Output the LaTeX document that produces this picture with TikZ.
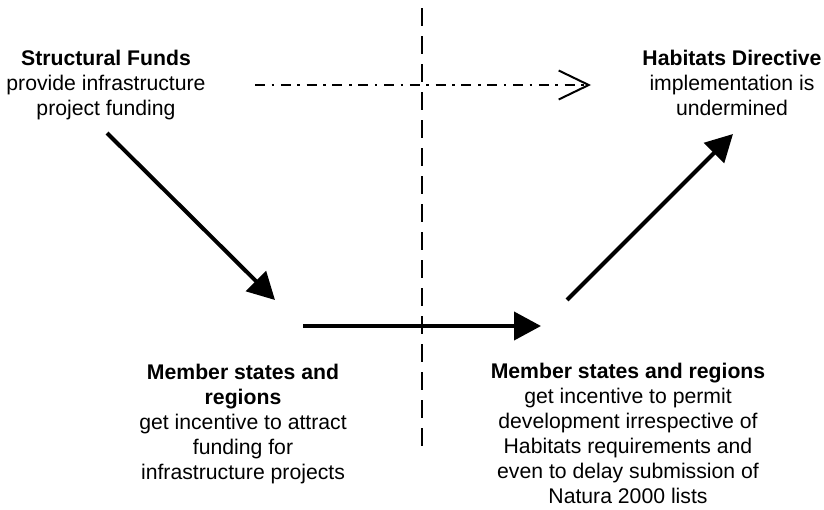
\documentclass[tikz,border=0pt]{standalone}
\usepackage{fontspec}
\setmainfont{Liberation Sans}
\usepackage{tikz}
\usetikzlibrary{arrows.meta,positioning,calc}

\begin{document}
\begin{tikzpicture}[x=0.5pt,y=-0.5pt,
    txt/.style={align=center,inner sep=0pt,anchor=north,
      font=\fontsize{10.6}{12.5}\selectfont},
    push/.style={line width=2pt,-{Triangle[length=13.5pt,width=14pt]}},
    effect/.style={line width=1pt,dash pattern=on 5pt off 3.3pt on 1.3pt off 3.3pt,
      -{Straight Barb[length=15pt,width=14.5pt,line width=1pt]}},
    divide/.style={line width=1.2pt,dash pattern=on 9pt off 5pt}]

    \useasboundingbox (0,0) rectangle (824,509);

    \node [txt] (sfunds) at (106,49.5) {\textbf{Structural Funds}\\provide infrastructure\\project funding};
    \node [txt] (hdir) at (732,49.5) {\textbf{Habitats Directive}\\implementation is\\undermined};
    \node [txt] (msleft) at (243,364) {\textbf{Member states and}\\\textbf{regions}\\get incentive to attract\\funding for\\infrastructure projects};
    \node [txt] (msright) at (628,363) {\textbf{Member states and regions}\\get incentive to permit\\development irrespective of\\Habitats requirements and\\even to delay submission of\\Natura 2000 lists};

    % arrow ends
    \coordinate (sfout) at (107,133);
    \coordinate (mlin) at (275,300);
    \coordinate (mlout) at (303,326);
    \coordinate (mrin) at (541,326);
    \coordinate (mrout) at (567,300);
    \coordinate (hdin) at (733,134);
    \coordinate (sfside) at (255,85);
    \coordinate (hdside) at (591,85);
    \coordinate (top) at (422,8);
    \coordinate (bottom) at (422,452);

    \draw [divide] (top)--(bottom);
    \draw [effect] (sfside)--(hdside);
    \draw [push] (sfout)--(mlin);
    \draw [push] (mlout)--(mrin);
    \draw [push] (mrout)--(hdin);
\end{tikzpicture}
\end{document}
